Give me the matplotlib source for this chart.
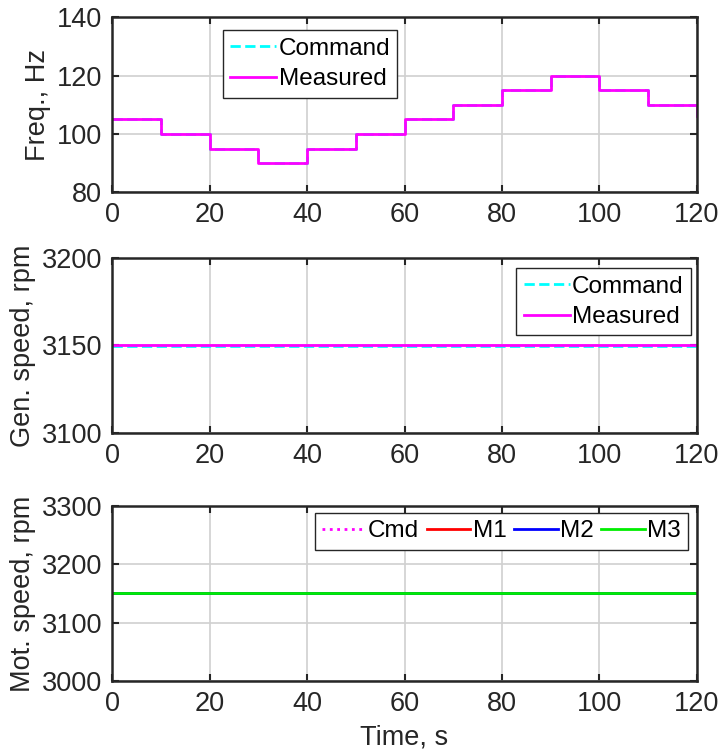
import numpy as np
import matplotlib.pyplot as plt
from matplotlib import font_manager

# step command, Hz (one value per 10 s block, last entry is the drop at t=120)
step_t = [0, 10, 20, 30, 40, 50, 60, 70, 80, 90, 100, 110, 120]
freq_cmd = [105, 100, 95, 90, 95, 100, 105, 110, 115, 120, 115, 110, 106]
freq_meas = [105, 100, 95, 90, 95, 100, 105, 110, 115, 120, 115, 110, 106]

t_span = [0, 120]
gen_cmd = [3149.7, 3149.7]
gen_meas = [3150.3, 3150.3]
mot_cmd = [3150, 3150]
mot_m1 = [3150, 3150]
mot_m2 = [3150, 3150]
mot_m3 = [3150, 3150]

names = [f.name for f in font_manager.fontManager.ttflist]
fam = 'Liberation Sans Narrow' if 'Liberation Sans Narrow' in names else 'Liberation Sans'
plt.rcParams['font.family'] = [fam, 'DejaVu Sans']
plt.rcParams['font.size'] = 19.5

fig = plt.figure(figsize=(7.23, 7.54), dpi=100)
ax1 = fig.add_axes([0.155, 0.745, 0.809, 0.232])
ax2 = fig.add_axes([0.155, 0.426, 0.809, 0.232])
ax3 = fig.add_axes([0.155, 0.097, 0.809, 0.232])

ax1.step(step_t, freq_cmd, where='post', color='cyan', ls='--', lw=2, label='Command')
ax1.step(step_t, freq_meas, where='post', color='magenta', lw=2, label='Measured')
ax1.set_ylim(80, 140)
ax1.set_yticks([80, 100, 120, 140])
ax1.set_ylabel('Freq., Hz')
ax1.legend(loc='upper left', bbox_to_anchor=(0.189, 0.925), fancybox=False,
           edgecolor='#262626', framealpha=1, handlelength=1.9, handletextpad=0.1,
           borderpad=0.3, labelspacing=0.35, borderaxespad=0, fontsize=17.5)

ax2.plot(t_span, gen_cmd, color='cyan', ls='--', lw=2, label='Command')
ax2.plot(t_span, gen_meas, color='magenta', lw=2, label='Measured')
ax2.set_ylim(3100, 3200)
ax2.set_yticks([3100, 3150, 3200])
ax2.set_ylabel('Gen. speed, rpm')
ax2.legend(loc='upper right', bbox_to_anchor=(0.99, 0.94), fancybox=False,
           edgecolor='#262626', framealpha=1, handlelength=1.9, handletextpad=0.1,
           borderpad=0.3, labelspacing=0.35, borderaxespad=0, fontsize=17.5)

ax3.plot(t_span, mot_cmd, color='magenta', ls=':', lw=2, label='Cmd')
ax3.plot(t_span, mot_m1, color='red', lw=2, label='M1')
ax3.plot(t_span, mot_m2, color='blue', lw=2, label='M2')
ax3.plot(t_span, mot_m3, color='#00ee00', lw=2, label='M3')
ax3.set_ylim(3000, 3300)
ax3.set_yticks([3000, 3100, 3200, 3300])
ax3.set_ylabel('Mot. speed, rpm')
ax3.set_xlabel('Time, s', labelpad=6)
ax3.legend(loc='upper right', bbox_to_anchor=(0.985, 0.96), ncol=4, fancybox=False,
           edgecolor='#262626', framealpha=1, handlelength=1.8, handletextpad=0.1,
           columnspacing=0.3, borderpad=0.3, borderaxespad=0, fontsize=17.5)

for ax in (ax1, ax2, ax3):
    ax.set_xlim(0, 120)
    ax.set_xticks(range(0, 121, 20))
    ax.grid(True, color='#d0d0d0', lw=1.2)
    ax.set_axisbelow(True)
    ax.tick_params(direction='in', top=True, right=True, length=5, width=1.5,
                   colors='#262626', labelcolor='#262626', pad=7)
    for s in ax.spines.values():
        s.set_linewidth(1.8)
        s.set_color('#262626')
    ax.yaxis.label.set_color('#262626')
    ax.xaxis.label.set_color('#262626')

fig.savefig('out.png', dpi=100)
